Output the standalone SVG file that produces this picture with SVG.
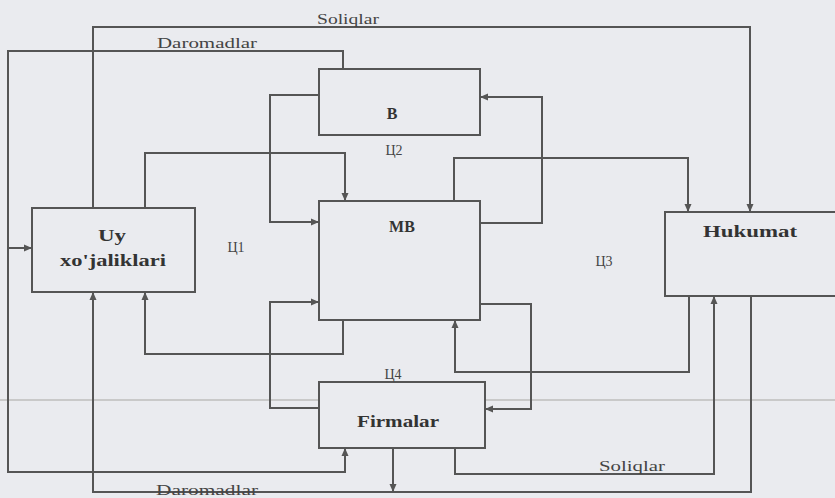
<svg xmlns="http://www.w3.org/2000/svg" width="835" height="498" viewBox="0 0 835 498">
<style>
.box{fill:#eaebef;stroke:#555;stroke-width:2}
.bt{font-family:"Liberation Serif",serif;font-weight:bold;font-size:16px;fill:#333;text-anchor:middle}
.lb{font-family:"Liberation Serif",serif;font-size:14px;fill:#444;text-anchor:middle}
.c path{fill:none;stroke:#555;stroke-width:2}
</style>
<defs>
<marker id="ar" markerUnits="userSpaceOnUse" markerWidth="9" markerHeight="8" refX="8" refY="4" orient="auto">
<path d="M0,0.5 L8,4 L0,7.5 z" fill="#555"/>
</marker>
</defs>
<rect x="0" y="0" width="835" height="498" fill="#eaebef"/>
<line x1="0" y1="400" x2="835" y2="400" stroke="#c9c9c9" stroke-width="2"/>

<g id="B"><rect class="box" x="319" y="69" width="161" height="66"/><text class="bt" x="392" y="119" font-size="17">B</text></g>
<g id="MB"><rect class="box" x="319" y="201" width="161" height="119"/><text class="bt" x="402" y="232" font-size="14">MB</text></g>
<g id="Uy"><rect class="box" x="32" y="208" width="163" height="84"/><text class="bt" x="112" y="241" font-size="17" textLength="28" lengthAdjust="spacingAndGlyphs">Uy</text><text class="bt" x="113" y="266" textLength="106" lengthAdjust="spacingAndGlyphs">xo'jaliklari</text></g>
<g id="Hukumat"><rect class="box" x="665" y="212" width="190" height="84"/><text class="bt" x="750" y="237" textLength="94" lengthAdjust="spacingAndGlyphs">Hukumat</text></g>
<g id="Firmalar"><rect class="box" x="319" y="382" width="166" height="66"/><text class="bt" x="398" y="427" textLength="82" lengthAdjust="spacingAndGlyphs">Firmalar</text></g>

<g class="c" id="connectors">
<path d="M93,208 V27 H750 V212" marker-end="url(#ar)"/>
<path d="M343,69 V51 H8 V472 H345 V448" marker-end="url(#ar)"/>
<path d="M8,248 H32" marker-end="url(#ar)"/>
<path d="M145,208 V153 H345 V201" marker-end="url(#ar)"/>
<path d="M319,95 H270 V222 H319" marker-end="url(#ar)"/>
<path d="M480,223 H542 V97 H480" marker-end="url(#ar)"/>
<path d="M454,201 V158 H688 V212" marker-end="url(#ar)"/>
<path d="M343,320 V354 H145 V292" marker-end="url(#ar)"/>
<path d="M319,408 H270 V302 H319" marker-end="url(#ar)"/>
<path d="M689,296 V372 H455 V320" marker-end="url(#ar)"/>
<path d="M480,304 H531 V409 H485" marker-end="url(#ar)"/>
<path d="M455,448 V474 H714 V296" marker-end="url(#ar)"/>
<path d="M751,296 V492 H93 V292" marker-end="url(#ar)"/>
<path d="M393,448 V492" marker-end="url(#ar)"/>
</g>

<g id="labels">
<text class="lb" x="348" y="24" textLength="62" lengthAdjust="spacingAndGlyphs">Soliqlar</text>
<text class="lb" x="207" y="48" textLength="100" lengthAdjust="spacingAndGlyphs">Daromadlar</text>
<text class="lb" x="207" y="495" textLength="102" lengthAdjust="spacingAndGlyphs">Daromadlar</text>
<text class="lb" x="632" y="471" textLength="66" lengthAdjust="spacingAndGlyphs">Soliqlar</text>
<text class="lb" x="236" y="252" font-size="15">Ц1</text>
<text class="lb" x="394" y="155" font-size="15">Ц2</text>
<text class="lb" x="604" y="266" font-size="15">Ц3</text>
<text class="lb" x="393" y="379" font-size="15">Ц4</text>
</g>
</svg>
